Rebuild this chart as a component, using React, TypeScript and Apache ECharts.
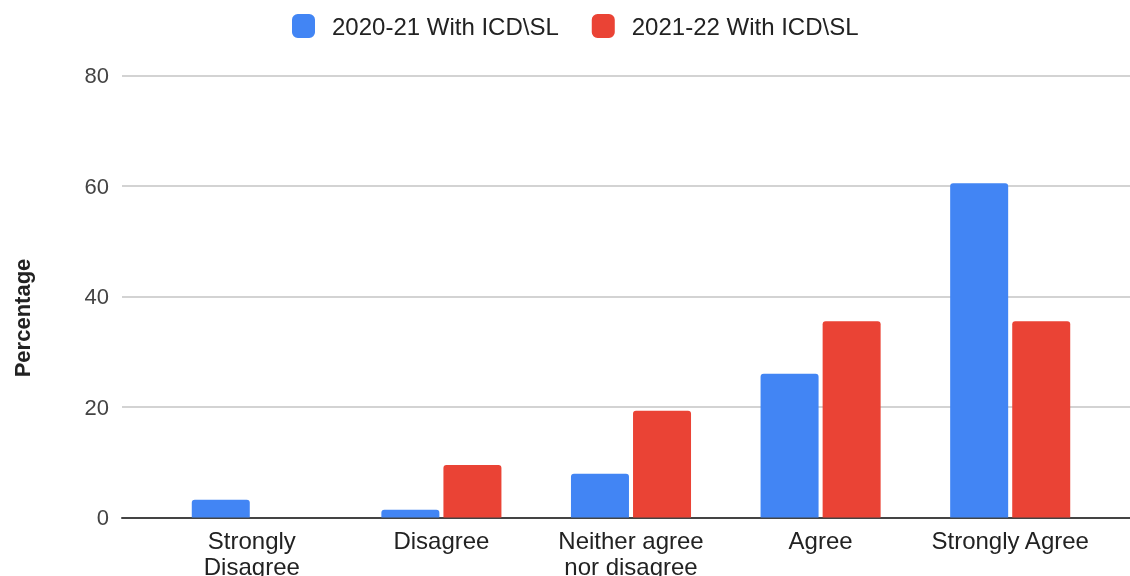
import React, { useEffect, useRef } from "react";
import * as echarts from "echarts";

const categories = ["Strongly Disagree", "Disagree", "Neither agree nor disagree", "Agree", "Strongly Agree"];
const series2021 = [3.2, 1.4, 7.9, 26.0, 60.5];
const series2122 = [0, 9.5, 19.3, 35.5, 35.5];
const seriesNames = ["2020-21 With ICD\\SL", "2021-22 With ICD\\SL"];
const yTicks = { min: 0, max: 80, interval: 20 };
const yAxisTitle = "Percentage";

const wrap = (v: string) => {
  if (v.length <= 15) return v;
  const mid = v.length / 2;
  let best = -1;
  for (let i = 0; i < v.length; i++) {
    if (v[i] === " " && (best < 0 || Math.abs(i - mid) < Math.abs(best - mid))) best = i;
  }
  return best < 0 ? v : v.slice(0, best) + "\n" + v.slice(best + 1);
};

export default function App() {
  const ref = useRef<HTMLDivElement>(null);
  useEffect(() => {
    document.body.style.margin = "0";
    const chart = echarts.init(ref.current!, null, { renderer: "svg" });
    const font = "'Liberation Sans', Arial, sans-serif";
    chart.setOption({
      animation: false,
      textStyle: { fontFamily: font },
      legend: {
        left: 292,
        top: 14,
        padding: 0,
        itemWidth: 23,
        itemHeight: 24,
        itemGap: 33,
        icon: "roundRect",
        textStyle: { fontSize: 24, color: "#222", fontFamily: font, padding: [0, 0, 0, 12] },
        data: seriesNames,
      },
      graphic: [
        {
          type: "text",
          x: 22,
          y: 318,
          rotation: Math.PI / 2,
          style: {
            text: yAxisTitle,
            fontSize: 22,
            fontWeight: "bold",
            fontFamily: font,
            fill: "#222",
            align: "center",
            verticalAlign: "middle",
          },
        },
      ],
      grid: [
        { left: 122, right: 0, top: 75.5, bottom: 58.5, containLabel: false, outerBoundsMode: "none" },
        { left: 157, right: 25, top: 75.5, bottom: 58.5, containLabel: false, outerBoundsMode: "none" },
      ],
      xAxis: [
        {
          gridIndex: 0,
          type: "value",
          min: 0,
          max: 1,
          axisLine: { show: true, lineStyle: { color: "#444", width: 2 } },
          axisTick: { show: false },
          axisLabel: { show: false },
          splitLine: { show: false },
        },
        {
          gridIndex: 1,
          type: "category",
          data: categories,
          axisLine: { show: false },
          axisTick: { show: false },
          axisLabel: {
            margin: 10,
            fontSize: 24,
            lineHeight: 26,
            color: "#222",
            fontFamily: font,
            interval: 0,
            formatter: wrap,
          },
        },
      ],
      yAxis: [
        {
          gridIndex: 0,
          type: "value",
          min: yTicks.min,
          max: yTicks.max,
          interval: yTicks.interval,
          axisLine: { show: false },
          axisTick: { show: false },
          axisLabel: { fontSize: 22, color: "#444", margin: 13, fontFamily: font },
          splitLine: { lineStyle: { color: "#d3d3d3", width: 2 } },
        },
        {
          gridIndex: 1,
          type: "value",
          min: yTicks.min,
          max: yTicks.max,
          interval: yTicks.interval,
          show: false,
          splitLine: { show: false },
        },
      ],
      series: [
        {
          name: seriesNames[0],
          type: "bar",
          xAxisIndex: 1,
          yAxisIndex: 1,
          data: series2021,
          barWidth: 58,
          barGap: "7%",
          itemStyle: { color: "#4285F4", borderRadius: [3, 3, 0, 0] },
        },
        {
          name: seriesNames[1],
          type: "bar",
          xAxisIndex: 1,
          yAxisIndex: 1,
          data: series2122,
          barWidth: 58,
          barGap: "7%",
          itemStyle: { color: "#EA4335", borderRadius: [3, 3, 0, 0] },
        },
      ],
    });
    return () => chart.dispose();
  }, []);
  return <div ref={ref} style={{ position: "fixed", left: 0, top: 0, width: 1130, height: 576 }} />;
}
